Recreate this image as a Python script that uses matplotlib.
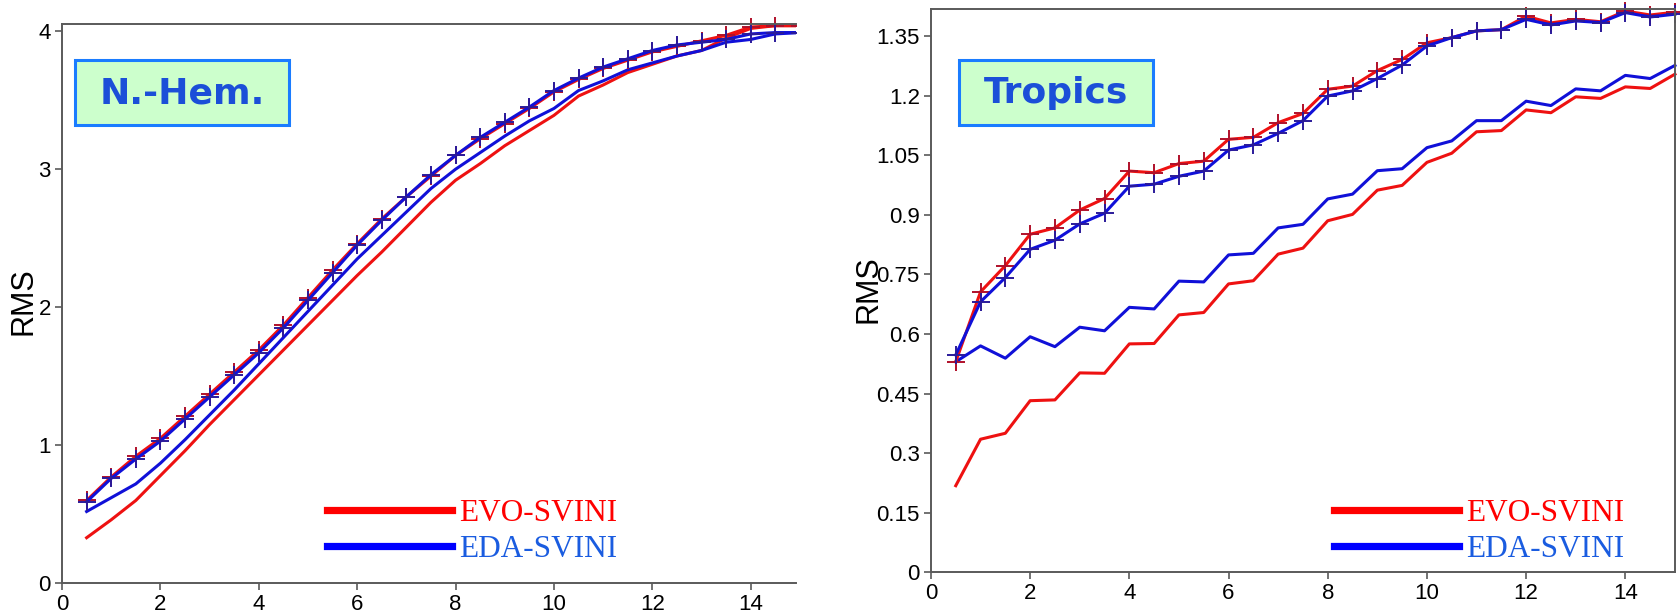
import numpy as np
import matplotlib
matplotlib.use("Agg")
import matplotlib.pyplot as plt
from matplotlib.lines import Line2D
from matplotlib.patches import Rectangle

# lead time (days)
lead = np.arange(0.5, 15.01, 0.5)

# N.-Hem. RMS
nh_evo_mark = [0.60, 0.77, 0.92, 1.05, 1.21, 1.37, 1.53, 1.69, 1.87, 2.07,
               2.27, 2.46, 2.64, 2.80, 2.95, 3.10, 3.22, 3.33, 3.44, 3.56,
               3.65, 3.73, 3.79, 3.85, 3.89, 3.93, 3.97, 4.03, 4.04, 4.04]
nh_eda_mark = [0.59, 0.76, 0.90, 1.03, 1.19, 1.35, 1.51, 1.67, 1.85, 2.05,
               2.25, 2.45, 2.63, 2.80, 2.96, 3.10, 3.23, 3.34, 3.45, 3.57,
               3.66, 3.74, 3.80, 3.86, 3.90, 3.92, 3.94, 3.98, 3.99, 3.99]
nh_evo = [0.33, 0.46, 0.60, 0.78, 0.96, 1.15, 1.33, 1.51, 1.69, 1.87,
          2.05, 2.23, 2.40, 2.58, 2.76, 2.92, 3.04, 3.17, 3.28, 3.39,
          3.53, 3.61, 3.70, 3.76, 3.82, 3.86, 3.95, 4.02, 4.04, 4.04]
nh_eda = [0.52, 0.62, 0.72, 0.87, 1.04, 1.22, 1.40, 1.59, 1.78, 1.97,
          2.16, 2.35, 2.52, 2.69, 2.86, 3.00, 3.12, 3.24, 3.35, 3.44,
          3.57, 3.64, 3.72, 3.77, 3.82, 3.86, 3.92, 3.94, 3.98, 3.99]

# Tropics RMS
tr_evo_mark = [0.530, 0.706, 0.772, 0.851, 0.867, 0.912, 0.941, 1.010, 1.006, 1.029,
               1.035, 1.090, 1.095, 1.132, 1.155, 1.216, 1.224, 1.263, 1.291, 1.333,
               1.346, 1.363, 1.366, 1.400, 1.383, 1.392, 1.386, 1.413, 1.403, 1.410]
tr_eda_mark = [0.547, 0.681, 0.742, 0.813, 0.836, 0.877, 0.904, 0.972, 0.977, 0.997,
               1.010, 1.063, 1.076, 1.105, 1.137, 1.199, 1.212, 1.243, 1.277, 1.325,
               1.346, 1.363, 1.366, 1.392, 1.378, 1.388, 1.384, 1.409, 1.398, 1.405]
tr_evo = [0.218, 0.335, 0.350, 0.432, 0.434, 0.502, 0.501, 0.575, 0.576, 0.648,
          0.654, 0.726, 0.734, 0.801, 0.816, 0.885, 0.901, 0.962, 0.974, 1.032,
          1.055, 1.109, 1.112, 1.164, 1.157, 1.197, 1.193, 1.222, 1.218, 1.254]
tr_eda = [0.530, 0.570, 0.539, 0.593, 0.568, 0.617, 0.608, 0.667, 0.663, 0.733,
          0.731, 0.799, 0.803, 0.867, 0.876, 0.940, 0.952, 1.011, 1.016, 1.069,
          1.086, 1.137, 1.137, 1.186, 1.175, 1.217, 1.212, 1.251, 1.243, 1.276]

nh_yticks = [0, 1, 2, 3, 4]
tr_yticks = [0, 0.15, 0.3, 0.45, 0.6, 0.75, 0.9, 1.05, 1.2, 1.35]
tr_ylabels = ["0", "0.15", "0.3", "0.45", "0.6", "0.75", "0.9", "1.05", "1.2", "1.35"]
xticks = [0, 2, 4, 6, 8, 10, 12, 14]
names = ["EVO-SVINI", "EDA-SVINI"]

RED = "#ee1111"
BLUE = "#1010d8"
SPINE = "#5a5a5a"

fig = plt.figure(figsize=(16.81, 6.10), dpi=100)
ax1 = fig.add_axes([0.0369, 0.0438, 0.4366, 0.9164])
ax2 = fig.add_axes([0.5538, 0.0618, 0.4426, 0.9234])


def draw(ax, evo_m, eda_m, evo, eda, clip):
    lines = []
    lines += ax.plot(lead, evo, color=RED, lw=2.2)
    lines += ax.plot(lead, eda, color=BLUE, lw=2.2)
    lines += ax.plot(lead, evo_m, color=RED, lw=2.2, marker="+", ms=13,
                     mew=1.4, mec="#b0102a")
    lines += ax.plot(lead, eda_m, color=BLUE, lw=2.2, marker="+", ms=13,
                     mew=1.4, mec="#2a1a9a")
    for ln in lines:
        ln.set_clip_path(Rectangle(clip[:2], clip[2], clip[3],
                                   transform=ax.transAxes))


draw(ax1, nh_evo_mark, nh_eda_mark, nh_evo, nh_eda, (0, -0.05, 1.0, 1.1))
draw(ax2, tr_evo_mark, tr_eda_mark, tr_evo, tr_eda, (-0.05, -0.05, 1.1, 1.1))

ax1.set_xlim(0, 14.92)
ax1.set_ylim(0, 4.05)
ax1.set_yticks(nh_yticks)
ax1.spines["right"].set_visible(False)

ax2.set_xlim(0, 15)
ax2.set_ylim(0, 1.418)
ax2.set_yticks(tr_yticks)
ax2.set_yticklabels(tr_ylabels)

for ax in (ax1, ax2):
    ax.set_xticks(xticks)
    ax.tick_params(direction="out", length=5, width=1.2, color=SPINE,
                   labelsize=16, pad=3)
    for lab in ax.get_xticklabels() + ax.get_yticklabels():
        lab.set_fontfamily("Liberation Sans")
    for sp in ax.spines.values():
        sp.set_color(SPINE)
        sp.set_linewidth(1.4)

# RMS labels
fig.text(24 / 1681, 1 - 301 / 610, "RMS", rotation=90, fontsize=22,
         family="Liberation Sans", ha="center", va="center")
fig.text(869 / 1681, 1 - 289 / 610, "RMS", rotation=90, fontsize=22,
         family="Liberation Sans", ha="center", va="center")

# region boxes
for x0, x1, label in [(75, 289, "N.-Hem."), (959, 1153, "Tropics")]:
    fig.patches.append(Rectangle((x0 / 1681, 1 - 125 / 610), (x1 - x0) / 1681,
                                 65 / 610, transform=fig.transFigure,
                                 facecolor="#ccffcc", edgecolor="#1a7cff",
                                 lw=2.2, zorder=5))
    fig.text((x0 + x1) / 2 / 1681, 1 - 93 / 610, label, fontsize=26,
             fontweight="bold", family="DejaVu Sans", color="#1b4fd8",
             ha="center", va="center", zorder=6)

# legends
handles = [Line2D([], [], color="#ff0000", lw=5.2),
           Line2D([], [], color="#0000ff", lw=5.2)]
for ax, bx, by in [(ax1, 0.361, 0.092), (ax2, 0.5417, 0.072)]:
    ax.legend(handles, names, loc="center left", bbox_to_anchor=(bx, by),
              frameon=False, borderpad=0, borderaxespad=0, handlelength=4.0,
              handletextpad=0.22, labelspacing=0.22,
              labelcolor=["#ff0000", "#1a5ce0"],
              prop={"family": "Liberation Serif", "size": 22.5})

plt.savefig("out.png", dpi=100)
